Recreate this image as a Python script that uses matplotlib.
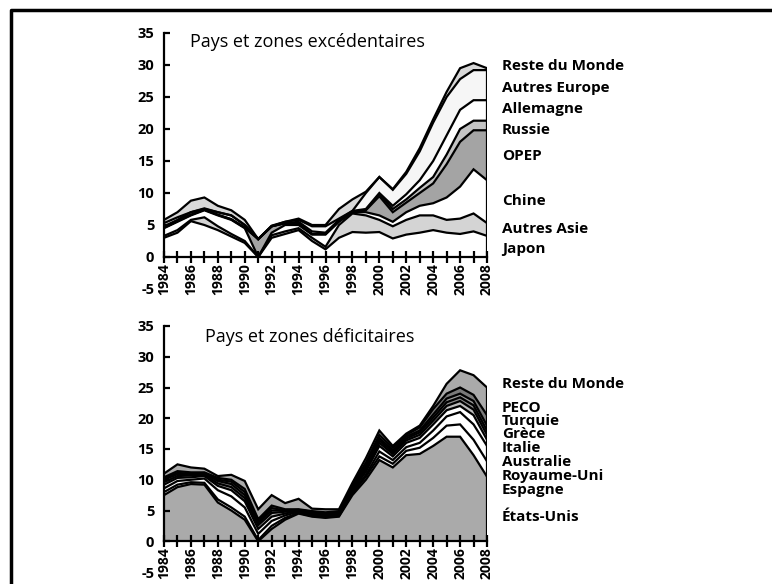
import numpy as np
import matplotlib.pyplot as plt
from matplotlib.lines import Line2D

plt.rcParams['font.family'] = ['Open Sans', 'DejaVu Sans']

years = np.arange(1984, 2009)

# pays et zones excedentaires (bas -> haut)
japon = [3.0, 3.8, 5.6, 5.0, 4.2, 3.2, 2.2, 0.0, 3.0, 3.6, 4.2, 2.5, 1.2, 3.0, 3.9, 3.8, 3.9, 2.9, 3.5, 3.8, 4.2, 3.8, 3.6, 4.0, 3.3]
autres_asie = [0.3, 0.4, 0.2, 1.2, 0.6, 0.4, 0.3, 0.0, 0.4, 0.4, 0.3, 0.5, 0.4, 2.0, 2.9, 2.7, 1.9, 1.9, 2.3, 2.7, 2.3, 2.0, 2.4, 2.8, 2.0]
chine = [1.2, 1.3, 0.7, 1.1, 1.7, 2.2, 2.0, 0.0, 0.4, 1.0, 0.5, 0.5, 1.9, 0.5, 0.2, 0.5, 0.7, 0.7, 1.2, 1.5, 1.9, 3.5, 5.0, 6.9, 6.7]
opep = [0.1, 0.1, 0.1, 0.1, 0.1, 0.1, 0.1, 2.8, 1.0, 0.3, 0.2, 0.1, 0.1, 0.1, 0.0, 0.3, 3.0, 1.5, 1.5, 2.0, 3.1, 5.2, 7.0, 6.1, 7.8]
russie = [0, 0, 0, 0, 0, 0, 0, 0, 0, 0, 0, 0, 0, 0, 0, 0.1, 0.3, 0.5, 0.5, 0.8, 1.0, 1.5, 2.0, 1.5, 1.5]
allemagne = [0.2, 0.2, 0.4, 0.1, 0.4, 0.6, 0.4, 0, 0, 0, 0.3, 0.4, 0.2, 0.2, 0.2, 0.1, 0.2, 0.5, 0.8, 1.2, 2.5, 3.0, 3.0, 3.2, 3.2]
autres_europe = [0.5, 0.4, 0.0, 0.1, 0.0, 0.0, 0.0, 0, 0, 0.2, 0.3, 0.8, 1.0, 0.2, 0.0, 2.5, 2.5, 2.5, 3.2, 4.5, 6.0, 6.0, 4.8, 4.7, 4.7]
reste_exc = [0.5, 0.8, 1.8, 1.7, 1.0, 0.8, 0.8, 0, 0.1, 0, 0.2, 0.2, 0.2, 1.5, 1.8, 0.2, 0, 0.1, 0.3, 0.5, 0.5, 0.8, 1.7, 1.1, 0.3]

# pays et zones deficitaires (bas -> haut)
etats_unis = [7.5, 8.8, 9.3, 9.2, 6.3, 5.0, 3.5, 0.0, 2.0, 3.5, 4.5, 4.0, 3.8, 4.0, 7.5, 10.0, 13.2, 12.0, 14.0, 14.2, 15.5, 17.0, 17.0, 14.0, 10.5]
espagne = [0.5, 0.4, 0.3, 0.3, 0.5, 0.5, 0.5, 0.2, 0.5, 0.3, 0.1, 0.1, 0.1, 0.1, 0.3, 0.5, 0.6, 0.6, 0.7, 1.0, 1.3, 1.8, 2.0, 2.5, 2.5]
royaume_uni = [0.6, 0.6, 0.4, 0.7, 1.5, 1.8, 1.5, 1.0, 0.8, 0.4, 0.2, 0.2, 0.2, 0.2, 0.2, 0.3, 0.8, 0.6, 0.6, 0.8, 1.2, 1.5, 2.0, 2.5, 2.5]
australie = [0.6, 0.5, 0.4, 0.4, 0.7, 1.0, 1.0, 0.8, 0.7, 0.3, 0.2, 0.2, 0.2, 0.2, 0.3, 0.5, 0.9, 0.6, 0.7, 0.8, 1.0, 1.0, 1.0, 1.5, 1.0]
italie = [0.4, 0.3, 0.3, 0.2, 0.4, 0.5, 0.5, 0.6, 0.6, 0.3, 0.0, 0.1, 0.1, 0.1, 0.2, 0.4, 0.5, 0.4, 0.4, 0.5, 0.6, 0.7, 0.8, 0.9, 0.8]
grece = [0.4, 0.3, 0.2, 0.2, 0.4, 0.5, 0.5, 0.4, 0.4, 0.2, 0.1, 0.1, 0.1, 0.1, 0.2, 0.3, 0.4, 0.3, 0.3, 0.4, 0.5, 0.6, 0.6, 0.7, 0.7]
turquie = [0.2, 0.2, 0.1, 0.1, 0.2, 0.4, 0.5, 0.2, 0.4, 0.0, 0.0, 0.1, 0.1, 0.1, 0.2, 0.3, 0.4, 0.3, 0.3, 0.3, 0.5, 0.6, 0.6, 0.7, 0.8]
peco = [0.2, 0.3, 0.2, 0.1, 0.3, 0.3, 0.5, 0.4, 0.4, 0.2, 0.1, 0.1, 0.1, 0.1, 0.3, 0.5, 0.5, 0.4, 0.3, 0.5, 0.9, 0.8, 1.0, 1.0, 1.7]
reste_def = [0.6, 1.1, 0.8, 0.6, 0.3, 0.8, 1.3, 1.6, 1.7, 1.0, 1.7, 0.4, 0.5, 0.3, 0.3, 0.7, 0.7, 0.3, 0.2, 0.3, 0.5, 1.6, 2.8, 3.2, 4.5]

exc_series = [japon, autres_asie, chine, opep, russie, allemagne, autres_europe, reste_exc]
exc_colors = ['white', '#d4d4d4', 'white', '#a4a4a4', '#c4c4c4', 'white', '#f6f6f6', '#d8d8d8']
exc_labels = ['Japon', 'Autres Asie', 'Chine', 'OPEP', 'Russie', 'Allemagne', 'Autres Europe', 'Reste du Monde']
exc_label_y = [249, 229, 201, 156, 130, 109, 88, 66]

def_series = [etats_unis, espagne, royaume_uni, australie, italie, grece, turquie, peco, reste_def]
def_colors = ['#aaaaaa', 'white', 'white', 'white', '#bbbbbb', '#8c8c8c', '#9a9a9a', '#7a7a7a', '#aaaaaa']
def_labels = [u'États-Unis', 'Espagne', 'Royaume-Uni', 'Australie', 'Italie', u'Grèce', 'Turquie', 'PECO', 'Reste du Monde']
def_label_y = [517, 490, 476, 462, 448, 434, 421, 408, 384]

W, H = 772, 584
fig = plt.figure(figsize=(W / 100, H / 100), dpi=100)


def draw(rect, series, colors, title, title_xy, labels, label_y, lsize):
    ax = fig.add_axes(rect)
    # spines d'abord : set_position remet les ticks a zero
    for s in ['top', 'right']:
        ax.spines[s].set_visible(False)
    ax.spines['bottom'].set_position(('data', 0))
    ax.spines['bottom'].set_linewidth(1.6)
    ax.spines['left'].set_linewidth(1.6)
    ax.spines['left'].set_bounds(0, 35)
    ax.patch.set_alpha(0)

    base = np.zeros(len(years))
    for vals, col in zip(series, colors):
        top = base + np.array(vals)
        ax.fill_between(years, base, top, facecolor=col, edgecolor='none', lw=0)
        ax.plot(years, top, color='black', lw=1.6, solid_joinstyle='miter')
        base = top
    ax.vlines(years[-1], 0, base[-1], color='black', lw=1.6)

    ax.set_xlim(1984, 2008)
    ax.set_ylim(-5, 35)
    ax.set_yticks(np.arange(-5, 36, 5))
    ax.set_yticklabels([str(v) for v in range(-5, 36, 5)], fontsize=10.5, fontweight='bold')
    ax.yaxis.get_major_ticks()[0].tick1line.set_visible(False)
    ax.tick_params(axis='y', direction='in', length=4, width=1.6, pad=7)
    ax.set_xticks(years)
    ax.set_xticklabels([str(y) if y % 2 == 0 else '' for y in years],
                       rotation=90, fontsize=10, fontweight='bold')
    ax.tick_params(axis='x', direction='inout', length=9, width=1.6, pad=0)

    fig.text(title_xy[0] / W, 1 - title_xy[1] / H, title, fontsize=13, va='center', ha='left')
    for lab, py in zip(labels, label_y):
        fig.text(502 / W, 1 - py / H, lab, fontsize=lsize, fontweight='bold', va='center', ha='left')
    return ax


draw([164 / W, 1 - 289 / H, 323 / W, 256 / H], exc_series, exc_colors,
     u'Pays et zones excédentaires', (190, 42), exc_labels, exc_label_y, 11)
draw([164 / W, 1 - 572 / H, 323 / W, 246 / H], def_series, def_colors,
     u'Pays et zones déficitaires', (205, 337), def_labels, def_label_y, 11)

# cadre
fig.add_artist(Line2D([11 / W, 11 / W, 1.0], [0.0, 1 - 10 / H, 1 - 10 / H],
                      transform=fig.transFigure, color='black', lw=2.5))

fig.savefig('out.png', dpi=100)
